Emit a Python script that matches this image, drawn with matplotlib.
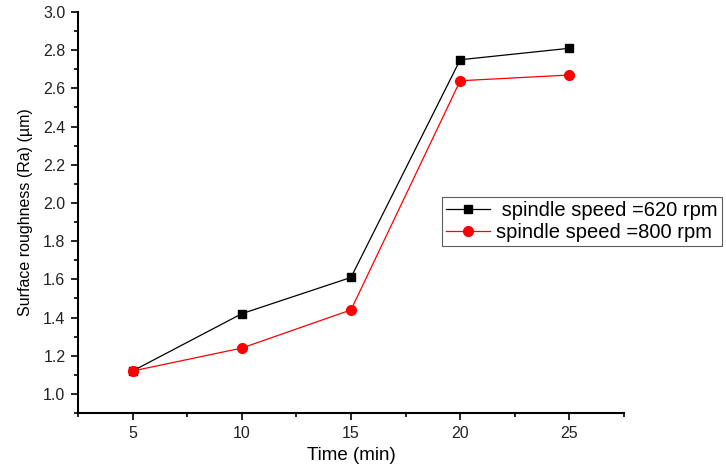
import matplotlib
matplotlib.use("Agg")
import matplotlib.pyplot as plt
from matplotlib.ticker import MultipleLocator

plt.rcParams['font.family'] = ['Liberation Sans', 'DejaVu Sans']

# Data.
time_min = [5, 10, 15, 20, 25]
ra_620 = [1.12, 1.42, 1.61, 2.75, 2.81]
ra_800 = [1.12, 1.24, 1.44, 2.64, 2.67]
label_620 = 'spindle speed =620 rpm'
label_800 = 'spindle speed =800 rpm'

fig = plt.figure(figsize=(7.26, 4.73), dpi=100)
ax = fig.add_axes([78 / 726, 1 - 413 / 473, (624 - 78) / 726, (413 - 12) / 473])

ax.plot(time_min, ra_620, color='black', lw=0.9, marker='s', ms=6, label=' ' + label_620)
ax.plot(time_min, ra_800, color='red', lw=0.9, marker='o', ms=7, label=label_800)

ax.set_xlim(2.5, 27.5)
ax.set_ylim(0.9, 3.0)
ax.xaxis.set_major_locator(MultipleLocator(5))
ax.xaxis.set_minor_locator(MultipleLocator(2.5))
ax.yaxis.set_major_locator(MultipleLocator(0.2))
ax.yaxis.set_minor_locator(MultipleLocator(0.1))
ax.set_xticks([5, 10, 15, 20, 25])

for s in ['top', 'right']:
    ax.spines[s].set_visible(False)
for s in ['left', 'bottom']:
    ax.spines[s].set_linewidth(1.5)
ax.tick_params(which='major', direction='out', length=5, width=1.2, labelsize=11.5,
               pad=4, labelcolor='#222222')
ax.tick_params(which='minor', direction='out', length=3, width=1.2)

ax.set_xlabel('Time (min)', fontsize=13.5, labelpad=5)
ax.set_ylabel('Surface roughness (Ra) (\u00b5m)', fontsize=11.5, labelpad=7)

leg = ax.legend(loc='upper left', bbox_to_anchor=(442 / 726, 1 - 197 / 473),
                bbox_transform=fig.transFigure, fontsize=14.5, frameon=True,
                fancybox=False, borderpad=0.2, labelspacing=0.15, handlelength=2.2,
                handletextpad=0.3, borderaxespad=0)
leg.get_frame().set_edgecolor('#333333')
leg.get_frame().set_linewidth(0.8)

fig.savefig('out.png', dpi=100)
